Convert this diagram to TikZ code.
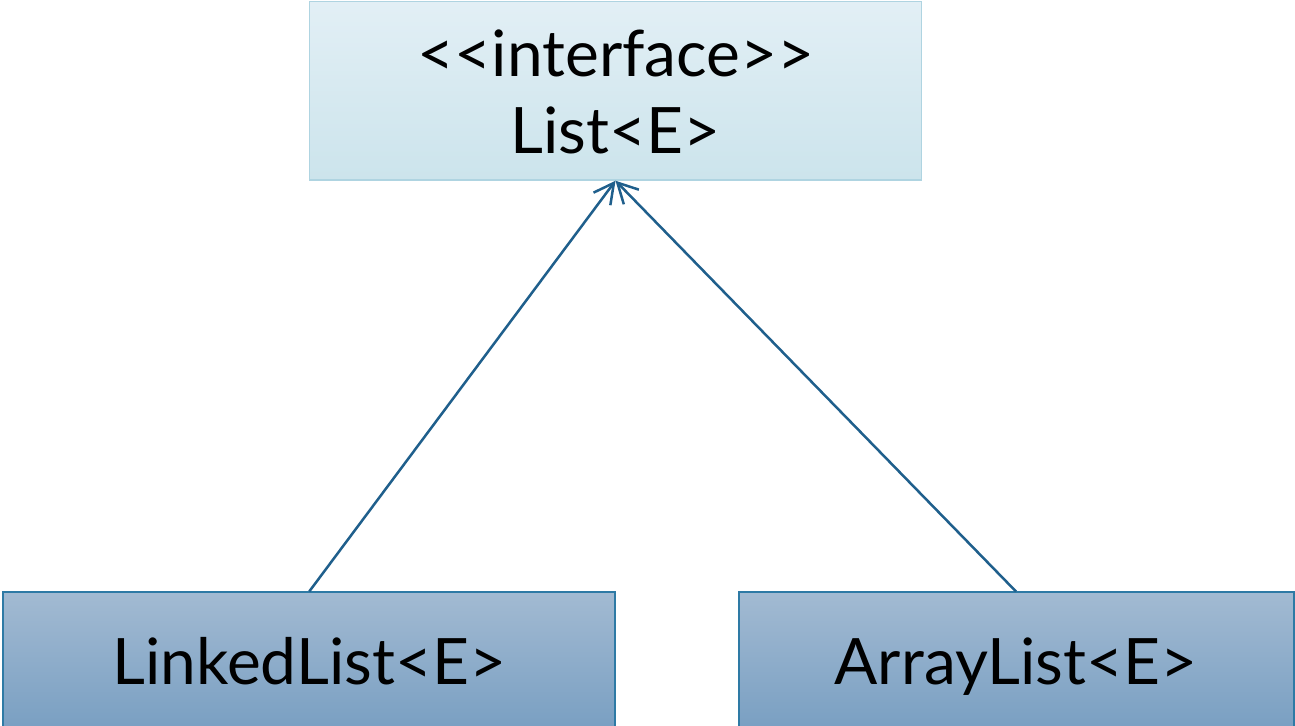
\documentclass[tikz,border=0pt]{standalone}
\usepackage{fontspec}
\setmainfont{Lato}
\usetikzlibrary{arrows.meta}
\definecolor{ifaceTop}{HTML}{E2EFF5}
\definecolor{ifaceBot}{HTML}{CCE4EC}
\definecolor{ifaceLine}{HTML}{AFD4E1}
\definecolor{clsTop}{HTML}{A2BAD2}
\definecolor{clsBot}{HTML}{799FC2}
\definecolor{clsLine}{HTML}{2E7AA5}
\definecolor{linkLine}{HTML}{1F5F8C}
\tikzset{
  umlfont/.style={font=\fontsize{64bp}{77bp}\selectfont},
  ifacebox/.style={draw=ifaceLine, line width=1.5bp, top color=ifaceTop, bottom color=ifaceBot,
    minimum width=612bp, minimum height=178.5bp, inner sep=0pt},
  classbox/.style={draw=clsLine, line width=2bp, top color=clsTop, bottom color=clsBot,
    minimum height=137.5bp, inner sep=0pt, umlfont, text height=46bp, text depth=0pt},
  txt/.style={umlfont, anchor=base, inner sep=0pt},
  realizes/.style={draw=linkLine, line width=2.5bp, -{Straight Barb[length=20bp,width=21bp,line width=2.5bp]}}
}
\begin{document}
\begin{tikzpicture}[x=1bp,y=1bp]
  \useasboundingbox (0,0) rectangle (1295,726);
  \fill[white] (0,0) rectangle (1295,726);
  % interface box
  \node[ifacebox] (iface) at (615.5,635.25) {};
  \node[txt] (ifstereo) at (616,649) {<{}<interface>{}>};
  \node[txt] (ifname) at (615.5,572) {List<E>};
  % implementing classes
  \node[classbox, minimum width=611.5bp] (linked) at (309.25,64.75) {LinkedList<E>};
  \node[classbox, minimum width=555bp] (array) at (1016,64.75) {ArrayList<E>};
  % realization connectors
  \draw[realizes] (linked.north) -- (iface.south);
  \draw[realizes] (array.north) -- (iface.south);
\end{tikzpicture}
\end{document}
